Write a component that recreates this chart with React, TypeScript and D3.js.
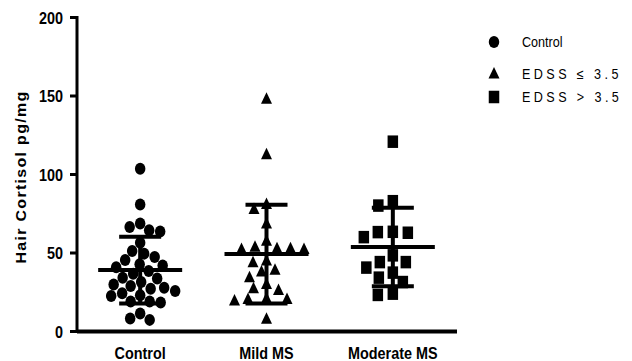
import React, { useEffect, useRef } from 'react';
import * as d3 from 'd3';

const categories = ['Control', 'Mild MS', 'Moderate MS'];
const legendLabels = ['Control', 'EDSS \u2264 3.5', 'EDSS > 3.5'];
const yTicks = [0, 50, 100, 150, 200];

const controlValues = [
  103.6, 80.9, 68.8, 66.5, 64.5, 63.7, 56.5, 51.2, 49.6, 47.4, 45.5, 42.8, 42.1, 40.9, 38.5, 36.8, 34.3,
  33.7, 31.5, 30.0, 29.0, 27.9, 27.3, 25.8, 24.3, 23.1, 22.6, 19.1, 19.1, 18.4, 11.4, 8.3, 7.4,
];
const mildValues = [
  148.0, 112.6, 80.9, 77.7, 68.6, 57.6, 53.7, 52.7, 52.7, 52.3, 52.3, 44.9, 43.8, 39.1, 37.9, 34.3,
  30.0, 27.3, 26.2, 21.0, 20.5, 20.5, 19.5, 7.8,
];
const moderateValues = [
  120.9, 83.0, 80.2, 63.5, 63.3, 62.9, 60.1, 48.5, 44.2, 44.2, 40.7, 37.5, 34.3, 31.5, 24.1, 23.3,
];

const groupMeans = [39.1, 49.3, 53.8];
const groupSds = [21.2, 31.4, 25.0];

const W = 632;
const H = 361;
const SQ = 0.9; // horizontal squeeze of the original picture's text

const x = d3.scalePoint<string>().domain(categories).range([77, 456]).padding(0.5);
const y = d3.scaleLinear().domain([0, 200]).range([331.5, 17.5]);

export default function App() {
  const ref = useRef<SVGSVGElement>(null);

  useEffect(() => {
    const svg = d3.select(ref.current);
    svg.selectAll('*').remove();

    const font = '"Liberation Sans", Arial, sans-serif';
    const groups = [controlValues, mildValues, moderateValues];
    const shapes = ['circle', 'triangle', 'square'];
    const mw = [10.5, 11, 10.5];
    const mh = [12, 11.5, 12.5];
    const gapX = [11, 13.5, 15]; // how loosely each column spreads sideways
    const gapY = [11.5, 11.5, 12.5];

    const drawMarker = (g: any, shape: string, cx: number, cy: number, i: number) => {
      if (shape === 'circle') {
        g.append('ellipse').attr('cx', cx).attr('cy', cy).attr('rx', mw[i] / 2).attr('ry', mh[i] / 2).attr('fill', '#000');
      } else if (shape === 'triangle') {
        const w = mw[i], h = mh[i];
        g.append('path')
          .attr('d', `M${cx},${cy - h * 0.6}L${cx + w / 2},${cy + h * 0.4}L${cx - w / 2},${cy + h * 0.4}Z`)
          .attr('fill', '#000');
      } else {
        g.append('rect')
          .attr('x', cx - mw[i] / 2).attr('y', cy - mh[i] / 2)
          .attr('width', mw[i]).attr('height', mh[i]).attr('fill', '#000');
      }
    };

    // simple beeswarm: each point takes the smallest sideways offset that doesn't collide
    const swarm = (vals: number[], i: number) => {
      const placed: { dx: number; py: number }[] = [];
      const sorted = [...vals].sort((a, b) => b - a);
      sorted.forEach((v) => {
        const py = y(v);
        let chosen = 0;
        for (let k = 0; k < 240; k++) {
          const step = Math.ceil(k / 2) * 0.5;
          const dx = k % 2 === 0 ? step : -step;
          const ok = placed.every((p) => {
            const ddx = (p.dx - dx) / gapX[i];
            const ddy = (p.py - py) / gapY[i];
            return ddx * ddx + ddy * ddy >= 1;
          });
          if (ok) { chosen = dx; break; }
        }
        placed.push({ dx: chosen, py });
      });
      return placed;
    };

    const plot = svg.append('g');
    groups.forEach((vals, i) => {
      const cx = x(categories[i]) as number;
      swarm(vals, i).forEach((p) => drawMarker(plot, shapes[i], cx + p.dx, p.py, i));
    });

    // mean and SD bars
    const bars = svg.append('g').attr('stroke', '#000').attr('stroke-width', 4);
    categories.forEach((c, i) => {
      const cx = x(c) as number;
      const m = groupMeans[i], s = groupSds[i];
      bars.append('line').attr('x1', cx).attr('x2', cx).attr('y1', y(m + s)).attr('y2', y(m - s));
      bars.append('line').attr('x1', cx - 42).attr('x2', cx + 42).attr('y1', y(m)).attr('y2', y(m));
      bars.append('line').attr('x1', cx - 21).attr('x2', cx + 21).attr('y1', y(m + s)).attr('y2', y(m + s));
      bars.append('line').attr('x1', cx - 21).attr('x2', cx + 21).attr('y1', y(m - s)).attr('y2', y(m - s));
    });

    // axes as one L-shaped path plus tick marks
    const x0 = x.range()[0];
    const x1 = x.range()[1];
    svg.append('path')
      .attr('d', `M${x0},${y(200) - 1.5}V${y(0)}H${x1 + 1}`)
      .attr('fill', 'none').attr('stroke', '#000').attr('stroke-width', 3);
    svg.append('path')
      .attr('d', `M${x0},${y(0)}H${x1 + 1}`)
      .attr('fill', 'none').attr('stroke', '#000').attr('stroke-width', 4);
    const tickPath = yTicks.map((t) => `M${x0 - 7},${y(t)}H${x0}`).join('');
    svg.append('path').attr('d', tickPath).attr('fill', 'none').attr('stroke', '#000').attr('stroke-width', 3);

    yTicks.forEach((t) => {
      svg.append('text')
        .attr('transform', `translate(63,${y(t) + 6}) scale(${SQ},1)`)
        .attr('text-anchor', 'end')
        .attr('font-family', font).attr('font-size', 16).attr('font-weight', 'bold')
        .text(d3.format('d')(t));
    });

    categories.forEach((c) => {
      svg.append('text')
        .attr('transform', `translate(${x(c)},359) scale(${SQ},1)`)
        .attr('text-anchor', 'middle')
        .attr('font-family', font).attr('font-size', 16).attr('font-weight', 'bold')
        .text(c);
    });

    svg.append('text')
      .attr('transform', `translate(26,177) rotate(-90) scale(1,${SQ})`)
      .attr('text-anchor', 'middle')
      .attr('font-family', font).attr('font-size', 16).attr('font-weight', 'bold')
      .attr('letter-spacing', 1.3)
      .text('Hair Cortisol pg/mg');

    // legend
    const legendY = [42, 74, 97];
    legendLabels.forEach((l, i) => {
      const lg = svg.append('g');
      drawMarker(lg, shapes[i], 494, legendY[i], i);
      lg.append('text')
        .attr('transform', `translate(522,${legendY[i] + 5}) scale(${SQ},1)`)
        .attr('font-family', font).attr('font-size', 14)
        .attr('letter-spacing', i === 0 ? 0 : 3.8)
        .text(l);
    });
  }, []);

  return (
    <svg
      ref={ref}
      width={W}
      height={H}
      style={{ position: 'absolute', left: 0, top: 0, background: '#fff' }}
    />
  );
}
